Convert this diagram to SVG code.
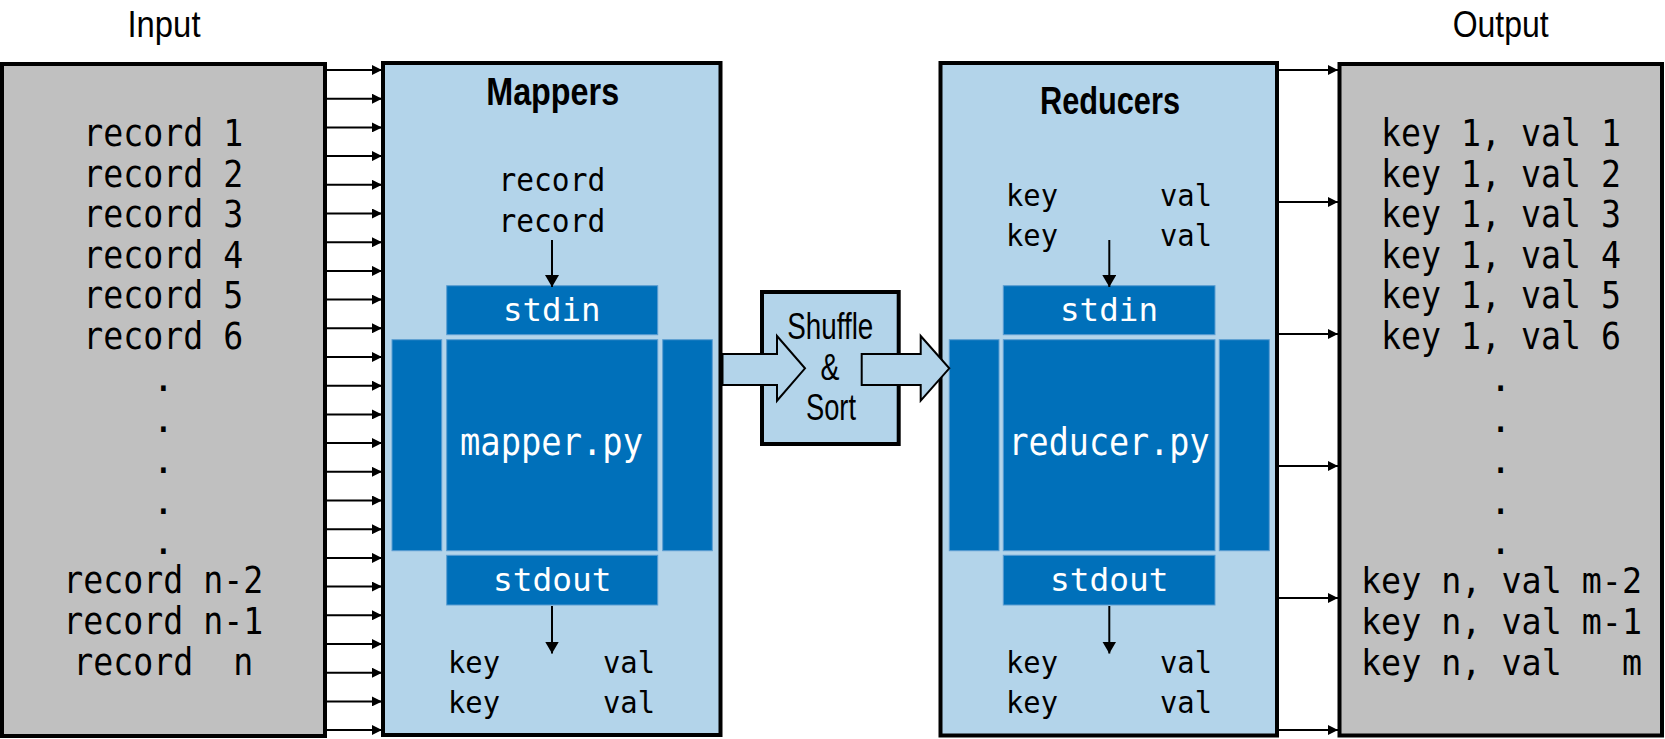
<svg xmlns="http://www.w3.org/2000/svg" width="1665" height="739" viewBox="0 0 1665 739">
<defs>
<style>
.box{stroke:#000;stroke-width:4}
.gray{fill:#c0c0c0}
.lb{fill:#b3d4ea}
.db{fill:#0070ba;stroke:#5b9dd2;stroke-width:1}
.mono{font-family:"DejaVu Sans Mono","Liberation Mono",monospace;fill:#000}
.f37{font-size:37px}
.f35{font-size:35px}
.f32{font-size:32px}
.f31{font-size:31px}
.w{fill:#fff}
.title{font-family:"Liberation Sans Narrow","Liberation Sans",Arial,sans-serif;font-size:38px;font-weight:bold;fill:#000}
.lbl{font-family:"Liberation Sans Narrow","Liberation Sans",Arial,sans-serif;font-size:37px;fill:#000}
.pre{white-space:pre}
.ln{stroke:#000;stroke-width:2;fill:none}
.blk{fill:#b3d4ea;stroke:#000;stroke-width:2;stroke-linejoin:miter}
</style>
<marker id="ah" viewBox="0 0 10 10" refX="10" refY="5" markerWidth="10" markerHeight="10" markerUnits="userSpaceOnUse" orient="auto">
<path d="M0,0 L10,5 L0,10 z" fill="#000"/>
</marker>
<marker id="ahd" viewBox="0 0 12 14" refX="12" refY="7" markerWidth="12" markerHeight="14" markerUnits="userSpaceOnUse" orient="auto">
<path d="M0,0 L12,7 L0,14 z" fill="#000"/>
</marker>
</defs>
<rect width="1665" height="739" fill="#fff"/>

<g id="input">
<text class="lbl" x="164" y="37" text-anchor="middle" textLength="73" lengthAdjust="spacingAndGlyphs">Input</text>
<rect class="box gray" x="2" y="64" width="323" height="672"/>
<text class="mono f37" x="83.3" y="146" textLength="160" lengthAdjust="spacingAndGlyphs">record 1</text>
<text class="mono f37" x="83.3" y="186.5" textLength="160" lengthAdjust="spacingAndGlyphs">record 2</text>
<text class="mono f37" x="83.3" y="227" textLength="160" lengthAdjust="spacingAndGlyphs">record 3</text>
<text class="mono f37" x="83.3" y="267.5" textLength="160" lengthAdjust="spacingAndGlyphs">record 4</text>
<text class="mono f37" x="83.3" y="308" textLength="160" lengthAdjust="spacingAndGlyphs">record 5</text>
<text class="mono f37" x="83.3" y="348.5" textLength="160" lengthAdjust="spacingAndGlyphs">record 6</text>
<text class="mono f37" x="163.3" y="391" text-anchor="middle">.</text>
<text class="mono f37" x="163.3" y="432" text-anchor="middle">.</text>
<text class="mono f37" x="163.3" y="472.5" text-anchor="middle">.</text>
<text class="mono f37" x="163.3" y="513.5" text-anchor="middle">.</text>
<text class="mono f37" x="163.3" y="554" text-anchor="middle">.</text>
<text class="mono f37" x="63.3" y="593.3" textLength="200" lengthAdjust="spacingAndGlyphs">record n-2</text>
<text class="mono f37" x="63.3" y="634" textLength="200" lengthAdjust="spacingAndGlyphs">record n-1</text>
<text class="mono f37 pre" x="73.3" y="675" xml:space="preserve" textLength="180" lengthAdjust="spacingAndGlyphs">record  n</text>
</g>

<g id="mappers">
<rect class="box lb" x="383" y="63" width="337.5" height="672"/>
<text class="title" x="552.7" y="105" text-anchor="middle" textLength="133" lengthAdjust="spacingAndGlyphs">Mappers</text>
<text class="mono f32" x="498.5" y="190.7" textLength="106.7" lengthAdjust="spacingAndGlyphs">record</text>
<text class="mono f32" x="498.5" y="231.7" textLength="106.7" lengthAdjust="spacingAndGlyphs">record</text>
<rect class="db" x="446.7" y="285.7" width="211" height="49"/>
<text class="mono f32 w" x="503" y="321" textLength="97.5" lengthAdjust="spacingAndGlyphs">stdin</text>
<rect class="db" x="392" y="339.7" width="49.7" height="211"/>
<rect class="db" x="446.7" y="339.7" width="211" height="211"/>
<rect class="db" x="662.7" y="339.7" width="49.6" height="211"/>
<text class="mono f37 w" x="460" y="455" textLength="183" lengthAdjust="spacingAndGlyphs">mapper.py</text>
<rect class="db" x="446.7" y="555.3" width="211" height="49.7"/>
<text class="mono f32 w" x="493" y="590.7" textLength="118.5" lengthAdjust="spacingAndGlyphs">stdout</text>
<text class="mono f31" x="448" y="673.3" textLength="52" lengthAdjust="spacingAndGlyphs">key</text>
<text class="mono f31" x="603" y="673.3" textLength="52" lengthAdjust="spacingAndGlyphs">val</text>
<text class="mono f31" x="448" y="713.3" textLength="52" lengthAdjust="spacingAndGlyphs">key</text>
<text class="mono f31" x="603" y="713.3" textLength="52" lengthAdjust="spacingAndGlyphs">val</text>
</g>

<g id="shuffle">
<rect class="box lb" x="762" y="292" width="136.7" height="152"/>
<text class="lbl" x="830.3" y="339.3" font-size="35" text-anchor="middle" textLength="86" lengthAdjust="spacingAndGlyphs">Shuffle</text>
<text class="lbl" x="830" y="380" font-size="35" text-anchor="middle" textLength="19" lengthAdjust="spacingAndGlyphs">&amp;</text>
<text class="lbl" x="831" y="420" font-size="35" text-anchor="middle" textLength="50" lengthAdjust="spacingAndGlyphs">Sort</text>
</g>

<g id="reducers">
<rect class="box lb" x="940.5" y="63" width="336.5" height="672.5"/>
<text class="title" x="1110" y="114" text-anchor="middle" textLength="140" lengthAdjust="spacingAndGlyphs">Reducers</text>
<text class="mono f31" x="1006" y="205.7" textLength="52" lengthAdjust="spacingAndGlyphs">key</text>
<text class="mono f31" x="1160" y="205.7" textLength="52" lengthAdjust="spacingAndGlyphs">val</text>
<text class="mono f31" x="1006" y="245.7" textLength="52" lengthAdjust="spacingAndGlyphs">key</text>
<text class="mono f31" x="1160" y="245.7" textLength="52" lengthAdjust="spacingAndGlyphs">val</text>
<rect class="db" x="1003.3" y="285.7" width="211.7" height="49"/>
<text class="mono f32 w" x="1060" y="321" textLength="98" lengthAdjust="spacingAndGlyphs">stdin</text>
<rect class="db" x="949.3" y="339.7" width="49.7" height="211"/>
<rect class="db" x="1003.3" y="339.7" width="211.7" height="211"/>
<rect class="db" x="1219.3" y="339.7" width="50" height="211"/>
<text class="mono f37 w" x="1008.5" y="455" textLength="201" lengthAdjust="spacingAndGlyphs">reducer.py</text>
<rect class="db" x="1003.3" y="555.3" width="211.7" height="49.7"/>
<text class="mono f32 w" x="1050" y="590.7" textLength="118.5" lengthAdjust="spacingAndGlyphs">stdout</text>
<text class="mono f31" x="1006" y="673.3" textLength="52" lengthAdjust="spacingAndGlyphs">key</text>
<text class="mono f31" x="1160" y="673.3" textLength="52" lengthAdjust="spacingAndGlyphs">val</text>
<text class="mono f31" x="1006" y="713.3" textLength="52" lengthAdjust="spacingAndGlyphs">key</text>
<text class="mono f31" x="1160" y="713.3" textLength="52" lengthAdjust="spacingAndGlyphs">val</text>
</g>

<g id="output">
<text class="lbl" x="1500.7" y="37" text-anchor="middle" textLength="96" lengthAdjust="spacingAndGlyphs">Output</text>
<rect class="box gray" x="1339.5" y="64" width="322.5" height="671.5"/>
<text class="mono f37" x="1381" y="146" textLength="240" lengthAdjust="spacingAndGlyphs">key 1, val 1</text>
<text class="mono f37" x="1381" y="186.5" textLength="240" lengthAdjust="spacingAndGlyphs">key 1, val 2</text>
<text class="mono f37" x="1381" y="227" textLength="240" lengthAdjust="spacingAndGlyphs">key 1, val 3</text>
<text class="mono f37" x="1381" y="267.5" textLength="240" lengthAdjust="spacingAndGlyphs">key 1, val 4</text>
<text class="mono f37" x="1381" y="308" textLength="240" lengthAdjust="spacingAndGlyphs">key 1, val 5</text>
<text class="mono f37" x="1381" y="348.5" textLength="240" lengthAdjust="spacingAndGlyphs">key 1, val 6</text>
<text class="mono f37" x="1500.7" y="391" text-anchor="middle">.</text>
<text class="mono f37" x="1500.7" y="432" text-anchor="middle">.</text>
<text class="mono f37" x="1500.7" y="472.5" text-anchor="middle">.</text>
<text class="mono f37" x="1500.7" y="513.5" text-anchor="middle">.</text>
<text class="mono f37" x="1500.7" y="554" text-anchor="middle">.</text>
<text class="mono f35" x="1361" y="593.3" textLength="281" lengthAdjust="spacingAndGlyphs">key n, val m-2</text>
<text class="mono f35" x="1361" y="634" textLength="281" lengthAdjust="spacingAndGlyphs">key n, val m-1</text>
<text class="mono f35 pre" x="1361" y="675" xml:space="preserve" textLength="281" lengthAdjust="spacingAndGlyphs">key n, val   m</text>
</g>

<g id="connectors">
<g class="ln" marker-end="url(#ah)">
<line x1="327" y1="70" x2="382" y2="70"/>
<line x1="327" y1="98.7" x2="382" y2="98.7"/>
<line x1="327" y1="127.4" x2="382" y2="127.4"/>
<line x1="327" y1="156.1" x2="382" y2="156.1"/>
<line x1="327" y1="184.8" x2="382" y2="184.8"/>
<line x1="327" y1="213.5" x2="382" y2="213.5"/>
<line x1="327" y1="242.2" x2="382" y2="242.2"/>
<line x1="327" y1="270.9" x2="382" y2="270.9"/>
<line x1="327" y1="299.6" x2="382" y2="299.6"/>
<line x1="327" y1="328.3" x2="382" y2="328.3"/>
<line x1="327" y1="357" x2="382" y2="357"/>
<line x1="327" y1="385.7" x2="382" y2="385.7"/>
<line x1="327" y1="414.4" x2="382" y2="414.4"/>
<line x1="327" y1="443.1" x2="382" y2="443.1"/>
<line x1="327" y1="471.8" x2="382" y2="471.8"/>
<line x1="327" y1="500.5" x2="382" y2="500.5"/>
<line x1="327" y1="529.2" x2="382" y2="529.2"/>
<line x1="327" y1="557.9" x2="382" y2="557.9"/>
<line x1="327" y1="586.6" x2="382" y2="586.6"/>
<line x1="327" y1="615.3" x2="382" y2="615.3"/>
<line x1="327" y1="644" x2="382" y2="644"/>
<line x1="327" y1="672.7" x2="382" y2="672.7"/>
<line x1="327" y1="701.4" x2="382" y2="701.4"/>
<line x1="327" y1="730" x2="382" y2="730"/>
<line x1="1279" y1="70" x2="1338" y2="70"/>
<line x1="1279" y1="202" x2="1338" y2="202"/>
<line x1="1279" y1="334" x2="1338" y2="334"/>
<line x1="1279" y1="466" x2="1338" y2="466"/>
<line x1="1279" y1="598" x2="1338" y2="598"/>
<line x1="1279" y1="730" x2="1338" y2="730"/>
</g>
<g class="ln" marker-end="url(#ahd)">
<line x1="552" y1="240" x2="552" y2="287"/>
<line x1="552" y1="606" x2="552" y2="653.5"/>
<line x1="1109.3" y1="240" x2="1109.3" y2="287"/>
<line x1="1109.3" y1="606" x2="1109.3" y2="653.5"/>
</g>
<polygon class="blk" points="722.5,354 777,354 777,336 805,368.3 777,400.7 777,385 722.5,385"/>
<polygon class="blk" points="861.7,354 920.7,354 920.7,336 949.3,368.3 920.7,400.7 920.7,385 861.7,385"/>
</g>
</svg>
